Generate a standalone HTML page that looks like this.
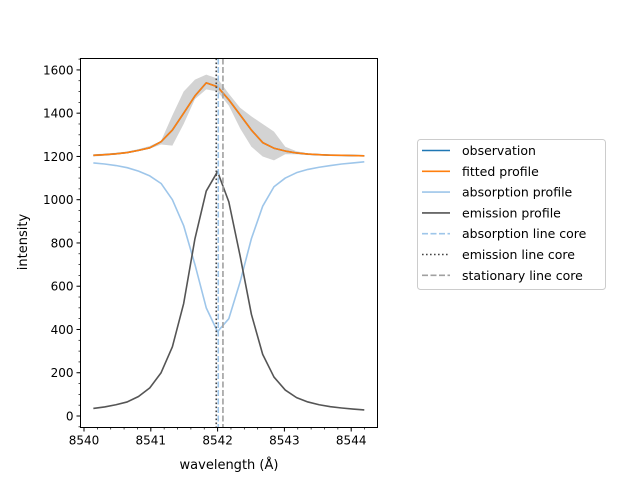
<!DOCTYPE html>
<html><head><meta charset="utf-8"><style>
html,body{margin:0;padding:0;background:#fff}
svg{display:block;font-family:"DejaVu Sans","Liberation Sans",sans-serif}
</style></head><body>
<svg id="chart" width="640" height="480" viewBox="0 0 640 480">
<rect width="640" height="480" fill="#fff"/>
<g id="plot"></g>
<g id="axes"></g>
<text x="229" y="469" font-size="13" text-anchor="middle" fill="#000">wavelength (Å)</text>
<text transform="translate(27,242) rotate(-90)" font-size="13" text-anchor="middle" fill="#000">intensity</text>
<g id="legend">
<rect x="417.5" y="139.5" width="188" height="150" rx="3" fill="#fff" stroke="#ccc"/>
</g>
</svg>
<script>
const wavelengths = [];
for (let i = 0; i < 25; i++) wavelengths.push(8540.14 + 0.169 * i);
const observation = [1205,1208,1212,1218,1228,1240,1268,1322,1400,1480,1540,1522,1462,1392,1322,1264,1238,1225,1216,1211,1208,1206,1205,1204,1203];
const obsUpper = [1210,1213,1217,1223,1234,1248,1272,1390,1500,1555,1578,1560,1490,1425,1385,1350,1315,1245,1224,1215,1210,1207,1205,1204,1203];
const obsLower = [1200,1203,1208,1214,1224,1236,1255,1250,1350,1465,1510,1500,1435,1330,1245,1200,1182,1210,1210,1206,1204,1203,1202,1201,1200];
const fitted = [1205,1208,1212,1218,1228,1240,1268,1322,1400,1480,1540,1522,1462,1392,1322,1264,1238,1225,1216,1211,1208,1206,1205,1204,1203];
const absorption = [1170,1165,1158,1148,1132,1110,1075,1000,880,700,500,390,450,620,820,970,1060,1100,1125,1140,1150,1158,1165,1170,1175];
const emission = [35,42,52,65,90,130,200,320,520,820,1040,1130,990,740,470,285,180,120,85,65,52,43,37,32,28];
const absorptionCore = 8542.01, emissionCore = 8541.98, stationaryCore = 8542.08;
const xTicks = [8540,8541,8542,8543,8544];
const yTicks = [0,200,400,600,800,1000,1200,1400,1600];

const L=80.5,R=377.5,T=58.5,B=427.5;
const X = v => 84 + (v - 8540) * 66.8;
const Y = v => 416 - v * 0.2163;
const NS='http://www.w3.org/2000/svg';
function mk(tag, attrs, parent){const e=document.createElementNS(NS,tag);for(const k in attrs)e.setAttribute(k,attrs[k]);parent.appendChild(e);return e;}
const plot=document.getElementById('plot'), axes=document.getElementById('axes'), legend=document.getElementById('legend');

let d='M'+wavelengths.map((w,i)=>X(w)+','+Y(obsUpper[i])).join('L');
for(let i=wavelengths.length-1;i>=0;i--) d+='L'+X(wavelengths[i])+','+Y(obsLower[i]);
const band=mk('path',{d:d+'Z',fill:'#d3d3d3',stroke:'none'},plot);



function line(vals,color,name){
  const p=mk('polyline',{points:wavelengths.map((w,i)=>X(w)+','+Y(vals[i])).join(' '),fill:'none',stroke:color,'stroke-width':1.6,'stroke-linejoin':'round'},plot);
  
  
}
line(observation,'#1f77b4','observation-line');
line(absorption,'#9ec6ea','absorption-profile-line');
line(emission,'#555555','emission-profile-line');
line(fitted,'#ff7f0e','fitted-profile-line');

function vline(v,color,dash,name){
  const l=mk('line',{x1:X(v),x2:X(v),y1:T,y2:B,stroke:color,'stroke-width':1.6,'stroke-dasharray':dash},plot);
  
  
}
vline(absorptionCore,'#9ec6ea','6,2.5','absorption-line-core');
vline(emissionCore,'#444','1.6,2.4','emission-line-core');
vline(stationaryCore,'#a0a0a0','6,2.5','stationary-line-core');

const frame=mk('rect',{x:L,y:T,width:R-L,height:B-T,fill:'none',stroke:'#000','stroke-width':1},axes);



xTicks.forEach(t=>{
  mk('line',{x1:X(t),x2:X(t),y1:B,y2:B+4,stroke:'#000'},axes);
  const tx=mk('text',{x:X(t),y:B+17,'font-size':12,'text-anchor':'middle'},axes);
  tx.textContent=t;
  
  
});
for(let v=8540;v<=8544.41;v+=0.2){const x=X(v);if(x>L&&x<R)mk('line',{x1:x,x2:x,y1:B,y2:B+2,stroke:'#000','stroke-width':0.7},axes);}
yTicks.forEach(t=>{
  mk('line',{x1:L-4,x2:L,y1:Y(t),y2:Y(t),stroke:'#000'},axes);
  const tx=mk('text',{x:L-7,y:Y(t)+4.5,'font-size':12,'text-anchor':'end'},axes);
  tx.textContent=t;
  
  
});
for(let v=-50;v<=1650;v+=50){const y=Y(v);if(y>T&&y<B)mk('line',{x1:L-2,x2:L,y1:y,y2:y,stroke:'#000','stroke-width':0.7},axes);}

const entries=[['observation','#1f77b4',''],['fitted profile','#ff7f0e',''],['absorption profile','#9ec6ea',''],['emission profile','#555555',''],['absorption line core','#9ec6ea','6,2.5'],['emission line core','#444','1.6,2.4'],['stationary line core','#a0a0a0','6,2.5']];
entries.forEach((e,i)=>{
  const y=150.5+i*20.8;
  const g=mk('g',{},legend);
  
  
  mk('line',{x1:422,x2:450,y1:y,y2:y,stroke:e[1],'stroke-width':1.6,'stroke-dasharray':e[2]},g);
  const t=mk('text',{x:462,y:y+4.5,'font-size':12.5},g);
  t.textContent=e[0];
});
</script>
</body></html>
